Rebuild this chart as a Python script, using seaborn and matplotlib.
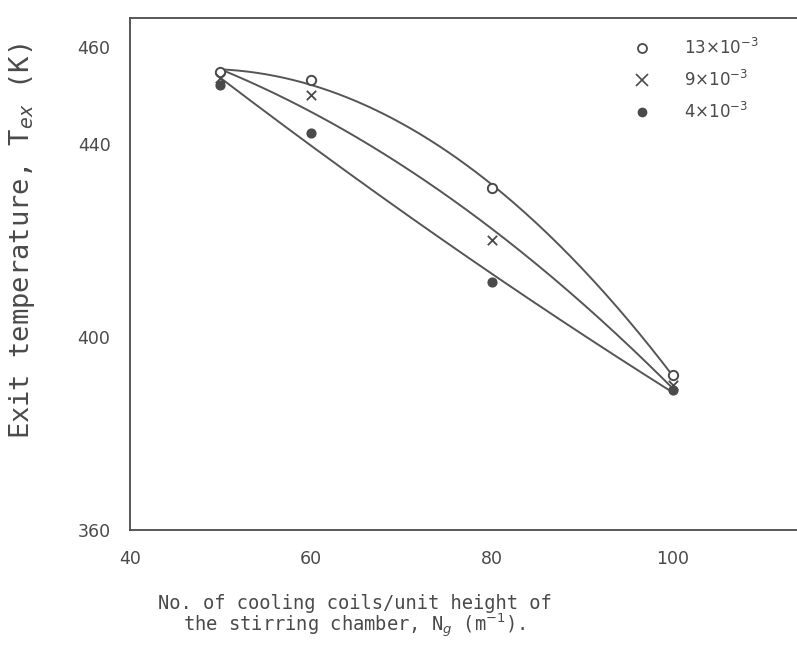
import numpy as np
import pandas as pd
import matplotlib
matplotlib.use("Agg")
import matplotlib.pyplot as plt
import seaborn as sns
from matplotlib.lines import Line2D

# coils per unit height of the stirring chamber, N_g (1/m)
coils = [50, 60, 80, 100]

# exit temperature T_ex (K) for each series
t_13 = [454.8, 453.2, 430.8, 392.1]
t_9 = [453.5, 450.1, 420.0, 390.0]
t_4 = [452.2, 442.2, 411.3, 389.0]

series_labels = [r"13$\times$10$^{-3}$", r"9$\times$10$^{-3}$", r"4$\times$10$^{-3}$"]

x_ticks = [40, 60, 80, 100]
y_ticks = [360, 400, 440, 460]

ink = "#4a4a4a"

sns.set_theme(style="white")
plt.rcParams["font.family"] = ["DejaVu Sans"]

fig = plt.figure(figsize=(7.97, 6.57), dpi=100)
ax = fig.add_axes([0.163, 0.193, 0.837, 0.7797])

markers = [
    dict(marker="o", s=45, facecolor="white", edgecolor=ink, linewidth=1.4),
    dict(marker="x", s=45, color=ink, linewidth=1.3),
    dict(marker="o", s=40, facecolor=ink, edgecolor=ink, linewidth=1.0),
]

for temps, mk in zip([t_13, t_9, t_4], markers):
    # smooth hand-drawn style curve fitted through the measured points
    coef = np.polyfit(coils, temps, 2)
    xs = np.linspace(coils[0], coils[-1], 200)
    curve = pd.DataFrame({"x": xs, "y": np.polyval(coef, xs)})
    sns.lineplot(data=curve, x="x", y="y", ax=ax, color="#555555", linewidth=1.4)
    ax.scatter(coils, temps, zorder=3, **mk)

ax.set_xlim(40, 113.7)
ax.set_ylim(360, 466)
ax.set_xticks(x_ticks)
ax.set_yticks(y_ticks)
ax.tick_params(direction="in", length=5, colors=ink, labelsize=12.5, pad=14)
for s in ["left", "bottom", "top"]:
    ax.spines[s].set_color(ink)
    ax.spines[s].set_linewidth(1.3)
ax.spines["right"].set_visible(False)

ax.set_xlabel("No. of cooling coils/unit height of\nthe stirring chamber, N$_g$ (m$^{-1}$).",
              fontsize=13.5, family="DejaVu Sans Mono", color=ink,
              linespacing=0.95)
ax.xaxis.set_label_coords(0.337, -0.125)
ax.set_ylabel("Exit temperature, T$_{ex}$ (K)", fontsize=19.5,
              family="DejaVu Sans Mono", color=ink, va="center")
ax.yaxis.set_label_coords(-0.162, 0.564)

handles = [
    Line2D([], [], linestyle="none", marker="o", markerfacecolor="white",
           markeredgecolor=ink, markersize=6.5, markeredgewidth=1.3),
    Line2D([], [], linestyle="none", marker="x", color=ink, markersize=8,
           markeredgewidth=1.2),
    Line2D([], [], linestyle="none", marker="o", markerfacecolor=ink,
           markeredgecolor=ink, markersize=6),
]
leg = ax.legend(handles, series_labels, loc="upper right", frameon=False,
                fontsize=12, labelcolor=ink, bbox_to_anchor=(0.965, 0.99),
                labelspacing=0.7, handletextpad=1.5, markerfirst=True)

fig.savefig("out.png", dpi=100)
